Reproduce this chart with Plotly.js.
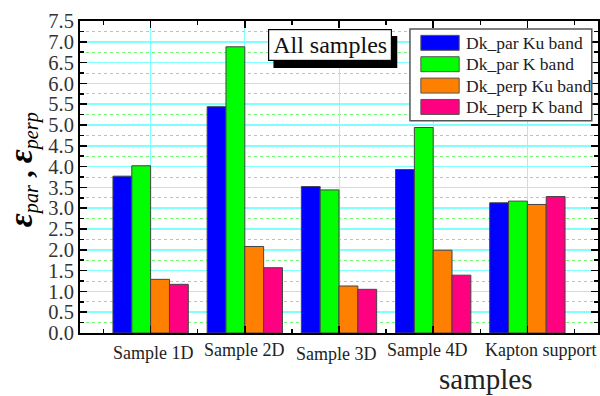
<!DOCTYPE html>
<html>
<head>
<meta charset="utf-8">
<script src="https://cdn.plot.ly/plotly-3.0.1.min.js"></script>
<style>html,body{margin:0;padding:0;background:#fff;}#chart{width:600px;height:396px;}</style>
</head>
<body>
<div id="chart"></div>
<script>
// ---- data ----
const categories = ["Sample 1D", "Sample 2D", "Sample 3D", "Sample 4D", "Kapton support"];
const seriesNames = ["Dk_par Ku band", "Dk_par K band", "Dk_perp Ku band", "Dk_perp K band"];
const dkParKu  = [3.77, 5.44, 3.52, 3.93, 3.13];
const dkParK   = [4.02, 6.88, 3.44, 4.94, 3.17];
const dkPerpKu = [1.29, 2.08, 1.13, 1.99, 3.09];
const dkPerpK  = [1.17, 1.57, 1.05, 1.39, 3.28];
const yTickVals = [0, 0.5, 1, 1.5, 2, 2.5, 3, 3.5, 4, 4.5, 5, 5.5, 6, 6.5, 7, 7.5];

// ---- styles ----
const colors = ["#0000ff", "#00ff00", "#ff8000", "#ff0080"];
const labelShift = [3, 0, -3, -6, 14];
const labelYShift = [-2, 1, -3, 1, 1];
const serif = "Liberation Serif, Times New Roman, serif";

const xpos = categories.map((_, i) => i + 1);
const seriesVals = [dkParKu, dkParK, dkPerpKu, dkPerpK];

const traces = seriesVals.map((vals, i) => ({
  type: "bar",
  x: xpos,
  y: vals,
  name: seriesNames[i],
  marker: {color: colors[i], line: {color: "#444", width: 1}},
  showlegend: false,
  hoverinfo: "y"
}));

const annotations = [];
categories.forEach((c, i) => {
  annotations.push({
    x: xpos[i], y: 0, xref: "x", yref: "y", xanchor: "center", yanchor: "top",
    text: c, showarrow: false, xshift: labelShift[i], yshift: -6 + labelYShift[i],
    font: {family: serif, size: 18, color: "#222"}
  });
});
// x-axis title
annotations.push({
  x: 0.782, y: -0.148, xref: "paper", yref: "paper", xanchor: "center", yanchor: "middle",
  text: "samples", showarrow: false,
  font: {family: serif, size: 29, color: "#222"}
});
// y-axis title
annotations.push({
  x: -0.112, y: 0.525, xref: "paper", yref: "paper", xanchor: "center", yanchor: "middle",
  textangle: -90, showarrow: false,
  text: "<b><i><span style='font-size:34px'>ε</span></i></b><sub><i>par</i></sub><b> , </b><b><i><span style='font-size:34px'>ε</span></i></b><sub><i>perp</i></sub>",
  font: {family: serif, size: 29, color: "#000"}
});
// "All samples" label
annotations.push({
  x: 0.3637, y: 0.974, xref: "paper", yref: "paper", xanchor: "left", yanchor: "top",
  text: "All samples", showarrow: false, width: 120, height: 28,
  font: {family: serif, size: 24, color: "#111"},
  bgcolor: "#fff", bordercolor: "#000", borderwidth: 1.2, borderpad: 1
});

// custom legend
const shapes = [];
const legX0 = 0.637, legX1 = 0.988, legY0 = 0.680, legY1 = 0.974;
shapes.push({type: "rect", xref: "paper", yref: "paper", x0: legX0, x1: legX1, y0: legY0, y1: legY1,
  line: {color: "#555", width: 1.5}, fillcolor: "#fff", layer: "above"});
// "All samples" shadow
shapes.push({type: "rect", xref: "paper", yref: "paper", x0: 0.3735, x1: 0.6125, y0: 0.849, y1: 0.952,
  line: {width: 0}, fillcolor: "#000", layer: "above"});
seriesNames.forEach((n, i) => {
  const yc = 0.930 - i * 0.0685;
  shapes.push({type: "rect", xref: "paper", yref: "paper", x0: 0.658, x1: 0.732, y0: yc - 0.024, y1: yc + 0.024,
    line: {color: "#555", width: 1}, fillcolor: colors[i], layer: "above"});
  annotations.push({x: 0.741, y: yc, xref: "paper", yref: "paper", xanchor: "left", yanchor: "middle",
    text: n, showarrow: false, font: {family: serif, size: 17.5, color: "#222"}});
});

const layout = {
  width: 600, height: 396,
  margin: {l: 80, r: 2, t: 21, b: 63},
  paper_bgcolor: "#fff", plot_bgcolor: "#fff",
  barmode: "group", bargap: 0.2, bargroupgap: 0,
  font: {family: serif},
  xaxis: {
    range: [0.25, 5.75], tickmode: "linear", tick0: 1, dtick: 1,
    showticklabels: false, ticks: "inside", ticklen: 7, tickwidth: 1.5, tickcolor: "#000",
    showline: true, linecolor: "#000", linewidth: 2, mirror: "ticks",
    showgrid: true, gridcolor: "#80ffff", gridwidth: 1, zeroline: false,
    minor: {tick0: 0.5, dtick: 1, ticks: "inside", ticklen: 4, tickwidth: 1.5, tickcolor: "#000", showgrid: false}
  },
  yaxis: {
    range: [0, 7.5], tickmode: "array", tickvals: yTickVals,
    ticktext: yTickVals.map(v => v.toFixed(1)),
    ticks: "inside", ticklen: 7, tickwidth: 1.5, tickcolor: "#000",
    tickfont: {family: serif, size: 20.5, color: "#333"},
    showline: true, linecolor: "#000", linewidth: 2, mirror: "ticks",
    showgrid: true, gridcolor: "#80ffff", gridwidth: 1.5, zeroline: false,
    minor: {tick0: 0.25, dtick: 0.5, ticks: "inside", ticklen: 4, tickwidth: 1.5, tickcolor: "#000",
      showgrid: true, gridcolor: "#70f870", griddash: "dot", gridwidth: 1}
  },
  shapes: shapes,
  annotations: annotations
};

Plotly.newPlot("chart", traces, layout, {displayModeBar: false, staticPlot: true});
</script>
</body>
</html>
